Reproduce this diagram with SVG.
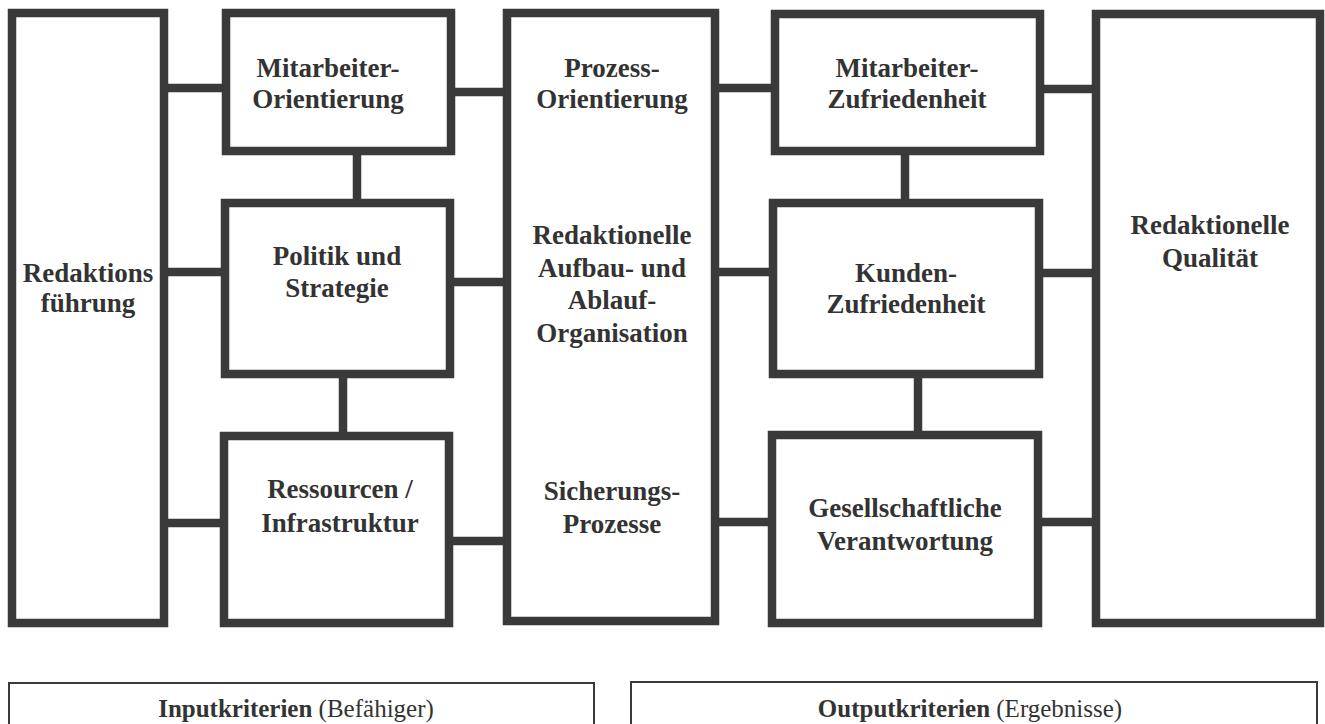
<svg xmlns="http://www.w3.org/2000/svg" width="1325" height="724" viewBox="0 0 1325 724">
<style>
.box{fill:#fff;stroke:#3a3a3a;stroke-width:8.5}
.con{stroke:#3a3a3a;stroke-width:8.5;fill:none}
.lbl{font-family:"Liberation Serif","Times New Roman",serif;font-weight:bold;font-size:27px;fill:#333;text-anchor:middle}
.leg{fill:#fff;stroke:#3a3a3a;stroke-width:2}
.legt{font-family:"Liberation Serif","Times New Roman",serif;font-size:25px;fill:#333;text-anchor:middle}
</style>
<rect width="1325" height="724" fill="#fff"/>
<g id="connectors">
<line class="con" x1="166" y1="88" x2="224" y2="88"/>
<line class="con" x1="166" y1="272" x2="223" y2="272"/>
<line class="con" x1="166" y1="523" x2="222" y2="523"/>
<line class="con" x1="357" y1="153" x2="357" y2="201"/>
<line class="con" x1="343" y1="376" x2="343" y2="434"/>
<line class="con" x1="453" y1="92" x2="505" y2="92"/>
<line class="con" x1="452" y1="282" x2="505" y2="282"/>
<line class="con" x1="451" y1="541" x2="505" y2="541"/>
<line class="con" x1="717" y1="88" x2="773" y2="88"/>
<line class="con" x1="717" y1="272" x2="771" y2="272"/>
<line class="con" x1="717" y1="522" x2="770" y2="522"/>
<line class="con" x1="905" y1="153" x2="905" y2="201"/>
<line class="con" x1="918" y1="376" x2="918" y2="433"/>
<line class="con" x1="1042" y1="89" x2="1094" y2="89"/>
<line class="con" x1="1041" y1="273" x2="1094" y2="273"/>
<line class="con" x1="1040" y1="522" x2="1094" y2="522"/>
</g>
<g id="redaktionsfuehrung">
<rect class="box" x="12" y="13" width="152" height="610"/>
<text class="lbl" x="88" y="282">Redaktions</text>
<text class="lbl" x="88" y="312">führung</text>
</g>
<g id="mitarbeiter-orientierung">
<rect class="box" x="226" y="13" width="225" height="138"/>
<text class="lbl" x="328" y="77">Mitarbeiter-</text>
<text class="lbl" x="328" y="108">Orientierung</text>
</g>
<g id="politik-strategie">
<rect class="box" x="225" y="203" width="225" height="171"/>
<text class="lbl" x="337" y="265">Politik und</text>
<text class="lbl" x="337" y="297">Strategie</text>
</g>
<g id="ressourcen">
<rect class="box" x="224" y="436" width="225" height="187"/>
<text class="lbl" x="340" y="498">Ressourcen /</text>
<text class="lbl" x="340" y="532">Infrastruktur</text>
</g>
<g id="prozesse">
<rect class="box" x="507" y="13" width="208" height="608"/>
<text class="lbl" x="612" y="77">Prozess-</text>
<text class="lbl" x="612" y="108">Orientierung</text>
<text class="lbl" x="612" y="244">Redaktionelle</text>
<text class="lbl" x="612" y="277">Aufbau- und</text>
<text class="lbl" x="612" y="309">Ablauf-</text>
<text class="lbl" x="612" y="342">Organisation</text>
<text class="lbl" x="612" y="500">Sicherungs-</text>
<text class="lbl" x="612" y="533">Prozesse</text>
</g>
<g id="mitarbeiter-zufriedenheit">
<rect class="box" x="775" y="14" width="265" height="137"/>
<text class="lbl" x="907" y="77">Mitarbeiter-</text>
<text class="lbl" x="907" y="108">Zufriedenheit</text>
</g>
<g id="kunden-zufriedenheit">
<rect class="box" x="773" y="203" width="266" height="171"/>
<text class="lbl" x="906" y="282">Kunden-</text>
<text class="lbl" x="906" y="313">Zufriedenheit</text>
</g>
<g id="gesellschaftliche-verantwortung">
<rect class="box" x="772" y="435" width="266" height="188"/>
<text class="lbl" x="905" y="517">Gesellschaftliche</text>
<text class="lbl" x="905" y="550">Verantwortung</text>
</g>
<g id="redaktionelle-qualitaet">
<rect class="box" x="1096" y="14" width="224" height="609"/>
<text class="lbl" x="1210" y="234">Redaktionelle</text>
<text class="lbl" x="1210" y="267">Qualität</text>
</g>
<g id="inputkriterien">
<rect class="leg" x="9" y="683" width="585" height="60"/>
<text class="legt" x="296" y="717"><tspan font-weight="bold">Inputkriterien</tspan> (Befähiger)</text>
</g>
<g id="outputkriterien">
<rect class="leg" x="631" y="682" width="686" height="60"/>
<text class="legt" x="970" y="717"><tspan font-weight="bold">Outputkriterien</tspan> (Ergebnisse)</text>
</g>
</svg>
